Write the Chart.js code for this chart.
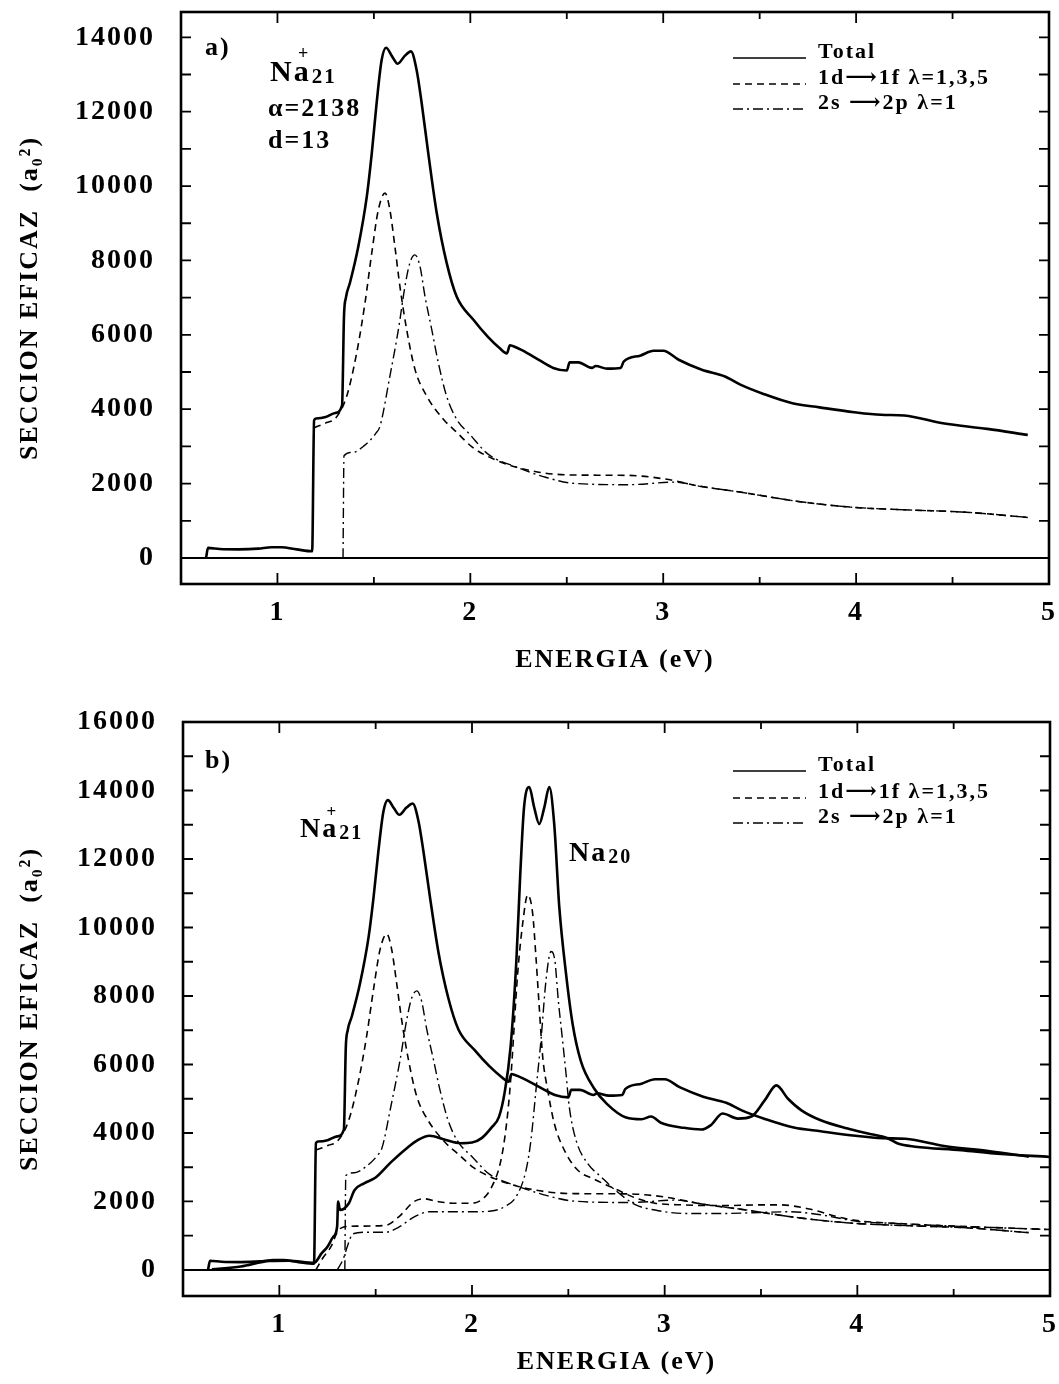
<!DOCTYPE html>
<html>
<head>
<meta charset="utf-8">
<script src="https://cdn.jsdelivr.net/npm/chart.js@4.4.1/dist/chart.umd.min.js"></script>
<style>
  body { margin: 0; background: #fff; }
  #wrap { position: relative; width: 1059px; height: 1384px; }
  .panel { position: absolute; left: 0; width: 1059px; }
</style>
</head>
<body>
<div id="wrap">
  <div class="panel" style="top:0;height:700px"><canvas id="chartA"></canvas></div>
  <div class="panel" style="top:700px;height:684px"><canvas id="chartB"></canvas></div>
</div>
<script>
// Na21+ : total, 1d->1f, 2s->2p  (energia eV / seccion eficaz a0^2)
const na21TotE = [0.63, 0.64, 0.70, 0.80, 0.90, 0.97, 1.02, 1.10, 1.18, 1.19, 1.20, 1.25, 1.30, 1.335, 1.345, 1.355, 1.376, 1.419, 1.463, 1.489, 1.514, 1.54, 1.563, 1.595, 1.623, 1.66, 1.692, 1.722, 1.748, 1.782, 1.826, 1.877, 1.929, 2.015, 2.09, 2.15, 2.19, 2.205, 2.22, 2.27, 2.36, 2.43, 2.50, 2.515, 2.56, 2.63, 2.65, 2.71, 2.78, 2.795, 2.88, 2.95, 3.00, 3.08, 3.20, 3.32, 3.40, 3.52, 3.67, 3.81, 3.99, 4.13, 4.25, 4.45, 4.68, 4.89];
const na21TotS = [0, 270, 240, 230, 250, 290, 290, 230, 180, 3700, 3750, 3790, 3900, 4100, 6500, 7000, 7400, 8370, 9710, 10880, 12220, 13380, 13720, 13480, 13290, 13500, 13620, 13110, 12220, 10880, 9270, 7940, 7030, 6410, 5950, 5650, 5500, 5720, 5700, 5580, 5310, 5110, 5040, 5260, 5260, 5110, 5160, 5090, 5110, 5280, 5440, 5570, 5570, 5330, 5060, 4880, 4660, 4410, 4160, 4050, 3920, 3850, 3830, 3620, 3470, 3310];

const na21DfE = [1.19, 1.255, 1.30, 1.359, 1.411, 1.454, 1.489, 1.523, 1.558, 1.583, 1.609, 1.635, 1.67, 1.713, 1.774, 1.86, 1.929, 2.01, 2.12, 2.24, 2.39, 2.53, 2.82, 3.0, 3.2, 3.4, 3.7, 3.99, 4.28, 4.57, 4.89];
const na21DfS = [3500, 3640, 3750, 4350, 5520, 6860, 8200, 9360, 9810, 9360, 8370, 7300, 6140, 5070, 4350, 3730, 3380, 2980, 2660, 2440, 2280, 2230, 2220, 2130, 1920, 1770, 1520, 1360, 1290, 1230, 1090];

const na21SpE = [1.34, 1.345, 1.39, 1.45, 1.51, 1.532, 1.583, 1.627, 1.661, 1.687, 1.713, 1.739, 1.765, 1.80, 1.834, 1.877, 1.929, 1.998, 2.09, 2.24, 2.39, 2.53, 2.82, 3.06, 3.2, 3.4, 3.7, 3.99, 4.28, 4.57, 4.89];
const na21SpS = [0, 2750, 2840, 3020, 3350, 3550, 4890, 6140, 7300, 7940, 8150, 7840, 7030, 6140, 5250, 4350, 3730, 3320, 2800, 2440, 2170, 2010, 1970, 2040, 1920, 1770, 1520, 1360, 1290, 1230, 1090];

// Na20 : total, 1d->1f, 2s->2p
const na20TotE = [0.65, 0.80, 0.95, 1.05, 1.18, 1.22, 1.25, 1.28, 1.30, 1.305, 1.315, 1.36, 1.39, 1.44, 1.50, 1.58, 1.66, 1.72, 1.78, 1.86, 1.94, 2.0, 2.05, 2.10, 2.14, 2.17, 2.20, 2.23, 2.25, 2.27, 2.297, 2.323, 2.349, 2.375, 2.401, 2.427, 2.453, 2.488, 2.522, 2.565, 2.634, 2.70, 2.80, 2.88, 2.93, 2.98, 3.10, 3.19, 3.24, 3.30, 3.38, 3.45, 3.52, 3.58, 3.64, 3.71, 3.81, 3.95, 4.05, 4.16, 4.21, 4.30, 4.54, 4.71, 5.0];
const na20TotS = [20, 100, 260, 270, 210, 490, 680, 970, 1270, 2000, 1750, 1940, 2330, 2530, 2700, 3150, 3550, 3800, 3920, 3800, 3700, 3720, 3850, 4150, 4470, 5200, 6500, 9000, 11500, 13500, 14100, 13500, 13020, 13500, 14100, 13000, 10600, 8650, 7190, 6100, 5300, 4850, 4450, 4400, 4480, 4300, 4150, 4100, 4230, 4570, 4420, 4480, 4960, 5390, 5000, 4660, 4370, 4130, 3990, 3840, 3690, 3600, 3500, 3400, 3300];

const na20DfE = [1.19, 1.22, 1.27, 1.30, 1.33, 1.40, 1.55, 1.62, 1.70, 1.75, 1.82, 1.90, 2.00, 2.05, 2.10, 2.15, 2.18, 2.20, 2.237, 2.263, 2.289, 2.315, 2.332, 2.349, 2.367, 2.393, 2.427, 2.479, 2.548, 2.634, 2.75, 2.85, 2.95, 3.10, 3.30, 3.50, 3.60, 3.75, 3.90, 4.00, 4.20, 4.50, 4.80, 5.00];
const na20DfS = [0, 300, 700, 1100, 1250, 1280, 1300, 1550, 2000, 2080, 2000, 1950, 1950, 2050, 2400, 3200, 4300, 5500, 8650, 10110, 10950, 10400, 9130, 7680, 6220, 5250, 4280, 3500, 2920, 2650, 2350, 2100, 1950, 1900, 1880, 1900, 1900, 1780, 1550, 1440, 1360, 1280, 1220, 1180];

const na20SpE = [1.30, 1.33, 1.36, 1.38, 1.45, 1.55, 1.62, 1.70, 1.78, 1.90, 2.00, 2.10, 2.17, 2.23, 2.28, 2.306, 2.332, 2.358, 2.384, 2.41, 2.43, 2.448, 2.47, 2.488, 2.505, 2.54, 2.60, 2.67, 2.75, 2.85, 2.95, 3.10, 3.30, 3.50, 3.65, 3.80, 4.00, 4.20, 4.50, 4.80, 5.00];
const na20SpS = [0, 300, 800, 1050, 1100, 1100, 1250, 1550, 1700, 1700, 1700, 1720, 1850, 2150, 2900, 3790, 5250, 6710, 8450, 9300, 9040, 7870, 6710, 5730, 4760, 3790, 3110, 2720, 2300, 1900, 1750, 1650, 1650, 1680, 1700, 1620, 1420, 1360, 1280, 1220, 1180];

// etiquetas de los ejes
const energiaTicks = [1, 2, 3, 4, 5];
const seccionTicksA = [0, 2000, 4000, 6000, 8000, 10000, 12000, 14000];
const seccionTicksB = [0, 2000, 4000, 6000, 8000, 10000, 12000, 14000, 16000];
const leyenda = ['Total', '1d\u27F61f \u03BB=1,3,5', '2s \u27F62p \u03BB=1'];

const SERIF = '"Liberation Serif", "DejaVu Serif", serif';
const DASH = [7, 5];
const DASHDOT = [10, 4, 2, 4];

function puntos(xs, ys) {
    return xs.map((x, i) => ({ x: x, y: ys[i] }));
}

function serie(label, xs, ys, dash, width) {
    return {
        label: label,
        data: puntos(xs, ys),
        borderColor: '#000',
        borderWidth: width,
        borderDash: dash,
        pointRadius: 0,
        fill: false,
        cubicInterpolationMode: 'monotone'
    };
}

// Nombre tipo "Na+21" con subindice y signo
function nombre(ctx, x, base, size, sub, plus) {
    ctx.font = 'bold ' + size + 'px ' + SERIF;
    ctx.textBaseline = 'alphabetic';
    ctx.textAlign = 'left';
    ctx.fillText('Na', x, base);
    const wN = ctx.measureText('N').width;
    const wNa = ctx.measureText('Na').width;
    const wa = wNa - wN;
    ctx.font = 'bold ' + Math.round(size * 0.7) + 'px ' + SERIF;
    ctx.fillText(sub, x + wNa + 1, base + 2);
    if (plus) {
        ctx.font = 'bold ' + Math.round(size * 0.6) + 'px ' + SERIF;
        ctx.textAlign = 'center';
        ctx.fillText('+', x + wN + wa / 2 + 2, base - size * 0.72);
    }
}

// Marco, marcas internas, linea del cero, leyenda y textos
const marco = {
    id: 'marco',
    beforeDraw(chart) {
        chart.ctx.letterSpacing = '2px';
    },
    afterDatasetsDraw(chart, args, o) {
        const { ctx, chartArea: a, scales: { x, y } } = chart;
        ctx.save();
        ctx.strokeStyle = '#000';
        ctx.fillStyle = '#000';
        ctx.setLineDash([]);

        // linea del cero
        const y0 = y.getPixelForValue(0);
        ctx.lineWidth = 2;
        ctx.beginPath(); ctx.moveTo(a.left, y0); ctx.lineTo(a.right, y0); ctx.stroke();

        // marcas
        ctx.lineWidth = 1.8;
        ctx.beginPath();
        for (let v = Math.ceil(y.min / 1000) * 1000; v < y.max; v += 1000) {
            if (v <= y.min) continue;
            const p = y.getPixelForValue(v);
            ctx.moveTo(a.left, p); ctx.lineTo(a.left + 10, p);
            ctx.moveTo(a.right - 10, p); ctx.lineTo(a.right, p);
        }
        for (let v = 1; v < 5; v += 0.5) {
            const p = x.getPixelForValue(v);
            const len = Number.isInteger(v) ? 11 : 7;
            ctx.moveTo(p, a.bottom); ctx.lineTo(p, a.bottom - len);
            ctx.moveTo(p, a.top); ctx.lineTo(p, a.top + len);
        }
        ctx.stroke();

        ctx.lineWidth = 2.6;
        ctx.strokeRect(a.left, a.top, a.right - a.left, a.bottom - a.top);

        // leyenda
        const L = o.leyenda;
        const estilos = [[[], 1.6], [DASH, 1.6], [DASHDOT, 1.4]];
        ctx.font = 'bold 22px ' + SERIF;
        ctx.textAlign = 'left';
        ctx.textBaseline = 'middle';
        leyenda.forEach((t, i) => {
            const yc = L.ys[i];
            ctx.setLineDash(estilos[i][0]);
            ctx.lineWidth = estilos[i][1];
            ctx.beginPath(); ctx.moveTo(L.x1, yc + 6); ctx.lineTo(L.x2, yc + 6); ctx.stroke();
            ctx.fillText(t, L.tx, yc);
        });
        ctx.setLineDash([]);

        // textos
        (o.textos || []).forEach(t => {
            ctx.font = 'bold ' + t.size + 'px ' + SERIF;
            ctx.textAlign = 'left';
            ctx.textBaseline = 'alphabetic';
            ctx.fillText(t.txt, t.x, t.y);
        });
        (o.nombres || []).forEach(n => nombre(ctx, n.x, n.y, n.size, n.sub, n.plus));
        ctx.restore();
    }
};

function opciones(cfg) {
    return {
        responsive: true,
        maintainAspectRatio: false,
        animation: false,
        layout: { padding: { top: cfg.top, right: cfg.right, left: 0, bottom: 0 } },
        plugins: {
            legend: { display: false },
            tooltip: { enabled: false },
            marco: cfg.marco
        },
        scales: {
            x: {
                type: 'linear',
                min: 0.5,
                max: 5,
                afterBuildTicks: s => { s.ticks = energiaTicks.map(v => ({ value: v })); },
                afterFit: s => { s.height = cfg.xh; s.paddingLeft = 0; s.paddingRight = 0; },
                grid: { display: false },
                border: { display: false },
                ticks: {
                    color: '#000',
                    font: { family: SERIF, size: 28, weight: 'bold' },
                    padding: 4,
                    maxRotation: 0,
                    autoSkip: false,
                    callback: v => String(v)
                },
                title: {
                    display: true,
                    text: 'ENERGIA (eV)',
                    color: '#000',
                    font: { family: SERIF, size: 26, weight: 'bold' },
                    padding: { bottom: cfg.xtp, top: 0 }
                }
            },
            y: {
                type: 'linear',
                min: cfg.ymin,
                max: cfg.ymax,
                afterBuildTicks: s => { s.ticks = cfg.yticks.map(v => ({ value: v })); },
                afterFit: s => { s.width = cfg.yw; s.paddingTop = 0; s.paddingBottom = 0; },
                grid: { display: false },
                border: { display: false },
                ticks: {
                    color: '#000',
                    font: { family: SERIF, size: 28, weight: 'bold' },
                    padding: 18,
                    autoSkip: false,
                    callback: v => String(v)
                },
                title: {
                    display: true,
                    text: 'SECCION EFICAZ  (a\u2080\u00B2)',
                    color: '#000',
                    font: { family: SERIF, size: 26, weight: 'bold' },
                    padding: { top: 15, bottom: 0 }
                }
            }
        }
    };
}

document.addEventListener('DOMContentLoaded', function () {
    const dsNa21 = [
        serie('Total', na21TotE, na21TotS, [], 2.6),
        serie('1d-1f', na21DfE, na21DfS, DASH, 1.6),
        serie('2s-2p', na21SpE, na21SpS, DASHDOT, 1.4)
    ];
    const dsNa20 = [
        serie('Total Na20', na20TotE, na20TotS, [], 2.6),
        serie('1d-1f Na20', na20DfE, na20DfS, DASH, 1.6),
        serie('2s-2p Na20', na20SpE, na20SpS, DASHDOT, 1.4)
    ];

    new Chart(document.getElementById('chartA').getContext('2d'), {
        type: 'line',
        data: { datasets: dsNa21 },
        options: opciones({
            top: 12, right: 10, xh: 116, yw: 181, xtp: 24,
            ymin: -700, ymax: 14680, yticks: seccionTicksA,
            marco: {
                leyenda: { x1: 733, x2: 806, tx: 818, ys: [52, 78, 103] },
                textos: [
                    { txt: 'a)', x: 205, y: 55, size: 26 },
                    { txt: '\u03B1=2138', x: 268, y: 116, size: 26 },
                    { txt: 'd=13', x: 268, y: 148, size: 26 }
                ],
                nombres: [{ x: 270, y: 81, size: 30, sub: '21', plus: true }]
            }
        }),
        plugins: [marco]
    });

    new Chart(document.getElementById('chartB').getContext('2d'), {
        type: 'line',
        data: { datasets: dsNa21.map(d => Object.assign({}, d, { data: d.data.slice() })).concat(dsNa20) },
        options: opciones({
            top: 22, right: 9, xh: 88, yw: 183, xtp: 6,
            ymin: -760, ymax: 16000, yticks: seccionTicksB,
            marco: {
                leyenda: { x1: 733, x2: 806, tx: 818, ys: [65, 92, 117] },
                textos: [
                    { txt: 'b)', x: 205, y: 68, size: 26 }
                ],
                nombres: [
                    { x: 300, y: 137, size: 28, sub: '21', plus: true },
                    { x: 569, y: 161, size: 28, sub: '20', plus: false }
                ]
            }
        }),
        plugins: [marco]
    });
});
</script>
</body>
</html>
